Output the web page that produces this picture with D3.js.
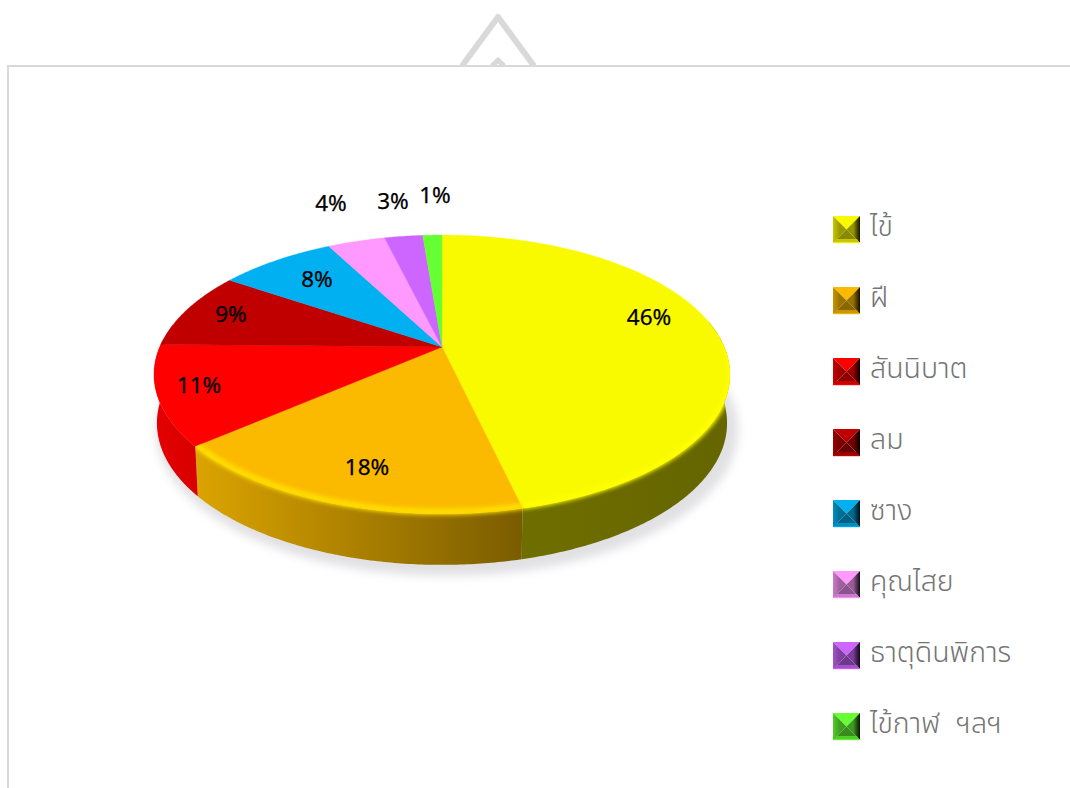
<!DOCTYPE html>
<html><head><meta charset="utf-8">
<script src="https://cdn.jsdelivr.net/npm/d3@7/dist/d3.min.js"></script>
<style>html,body{margin:0;padding:0;background:#fff;overflow:hidden}svg{display:block}</style>
</head><body><svg id="c" width="1070" height="788"></svg>
<script>
const categories = ["ไข้","ฝี","สันนิบาต","ลม","ซาง","คุณไสย","ธาตุดินพิการ","ไข้กาฬ ฯลฯ"];
const shares = [46.3,17.5,11.5,9.0,7.9,3.9,2.6,1.3];
const percentLabels = ["46%","18%","11%","9%","8%","4%","3%","1%"];
const colors = ["#f9f900","#fbba00","#ff0000","#c00000","#00b0f0","#ff99ff","#cc66ff","#66ff33"];
const sideLeft = ["#6e6e00","#dca400","#e20000","#a80000","#0090c8","#d080d0","#a050d0","#50d020"];
const sideRight = ["#666600","#7a5c00","#d80000","#900000","#007aa8","#b070b0","#8040b0","#40b010"];
const rimGlow = ["#ffff00","#ffe000",null,null,null,null,null,null];
const labelPos = [[649,317],[367,467],[199,385],[231,314],[317,279],[331,203],[393,201],[435,195]];

const svg = d3.select("#c"), defs = svg.append("defs");
const F = "'Noto Sans','Noto Sans Thai','Open Sans',sans-serif";
const cx=442, cy=347, A=134, B=282.3, k=0.197;
const topP = a=>{const u=Math.sin(a), v=-Math.cos(a), w=1-k*v; return [cx+B*u/w, cy+A*v/w];};
const botP = a=>{const p=topP(a), v=-Math.cos(a); return [cx+(p[0]-cx)*0.99, p[1]+48+3*v];};
const line = d3.line();
const pie = d3.pie().sort(null).value(d=>d)(shares);
const span=(a0,a1)=>{const n=Math.max(2,Math.ceil((a1-a0)/0.01));return d3.range(n+1).map(i=>a0+(a1-a0)*i/n);};
const PI=Math.PI, frontA=PI/2-0.2, frontB=1.5*PI+0.06;

// frame and the triangle behind it
const tri = svg.append("g").attr("fill","none").attr("stroke","#d9d9d9").attr("stroke-linejoin","round");
tri.append("path").attr("d","M462,66L498,17L534,66").attr("stroke-width",6);
tri.append("path").attr("d","M492,66L498,60L504,66").attr("stroke-width",5);
svg.append("rect").attr("x",8).attr("y",66).attr("width",1070).attr("height",740).attr("fill","#fff").attr("stroke","#d9d9d9").attr("stroke-width",2);

// ground shadow
defs.append("filter").attr("id","blur").attr("x","-20%").attr("y","-20%").attr("width","140%").attr("height","140%")
  .append("feGaussianBlur").attr("stdDeviation",5);
svg.append("ellipse").attr("cx",447).attr("cy",430).attr("rx",291).attr("ry",146).attr("fill","#d4d4d8").attr("opacity",.7).attr("filter","url(#blur)");

// side walls
pie.forEach((d,i)=>{
  const a0=Math.max(d.startAngle,frontA), a1=Math.min(d.endAngle,frontB);
  if(a1<=a0) return;
  const as=span(a0,a1);
  const g=defs.append("linearGradient").attr("id","side"+i).attr("gradientUnits","userSpaceOnUse")
    .attr("x1",topP(a1)[0]).attr("x2",topP(a0)[0]).attr("y1",0).attr("y2",0);
  g.append("stop").attr("offset",0).attr("stop-color",sideLeft[i]);
  g.append("stop").attr("offset",1).attr("stop-color",sideRight[i]);
  svg.append("path").attr("d",line(as.map(a=>topP(a)).concat(as.slice().reverse().map(a=>botP(a))))+"Z").attr("fill",`url(#side${i})`);
});

// soft rim: the face colour bleeds over the top of the wall, kept inside the slice and its wall
defs.append("filter").attr("id","soft").attr("x","-20%").attr("y","-20%").attr("width","140%").attr("height","140%")
  .append("feGaussianBlur").attr("stdDeviation",2.2);
const clip=defs.append("clipPath").attr("id","wallClip");
pie.forEach((d,i)=>{
  if(!rimGlow[i]) return;
  const as=span(Math.max(d.startAngle,frontA),d.endAngle);
  clip.append("path").attr("d",line(as.map(a=>topP(a)).concat(as.slice().reverse().map(a=>botP(a))))+"Z");
  clip.append("path").attr("d",line([[cx,cy]].concat(span(d.startAngle,d.endAngle).map(a=>topP(a))))+"Z");
});

// top faces
pie.forEach((d,i)=>{
  const pts=[[cx,cy]].concat(span(d.startAngle,d.endAngle).map(a=>topP(a)));
  svg.append("path").attr("d",line(pts)+"Z").attr("fill",colors[i]).attr("stroke",colors[i]).attr("stroke-width",.4);
});
const rim=svg.append("g").attr("clip-path","url(#wallClip)");
pie.forEach((d,i)=>{
  if(!rimGlow[i]) return;
  const as=span(Math.max(d.startAngle,PI/2),d.endAngle);
  rim.append("path").attr("d",line(as.map(a=>{const p=topP(a);return [p[0],p[1]-2];}))).attr("fill","none")
    .attr("stroke",rimGlow[i]).attr("stroke-width",6).attr("filter","url(#soft)");
});

// percent labels
percentLabels.forEach((t,i)=>svg.append("text").attr("x",labelPos[i][0]).attr("y",labelPos[i][1]).attr("dy","0.35em")
  .attr("text-anchor","middle").attr("font-family",F).attr("font-size",22.5).attr("fill","#000").attr("stroke","#000").attr("stroke-width",.25).text(t));

// legend
const legendY=d3.scalePoint().domain(d3.range(categories.length)).range([229,726]);
categories.forEach((c,i)=>{
  const x=833, y=legendY(i)-13, s=27, m=13.5;
  const g=svg.append("g").attr("transform",`translate(${x},${y})`);
  const q=d3.rgb(colors[i]);
  const dark=f=>d3.rgb(q.r*f,q.g*f,q.b*f)+"";
  const rg=defs.append("linearGradient").attr("id","lr"+i);
  rg.append("stop").attr("offset",.5).attr("stop-color",dark(.6));
  rg.append("stop").attr("offset",1).attr("stop-color",dark(.08));
  const lg=defs.append("linearGradient").attr("id","ll"+i);
  lg.append("stop").attr("offset",0).attr("stop-color",dark(.8));
  lg.append("stop").attr("offset",.5).attr("stop-color",dark(.62));
  g.append("path").attr("d",`M0,0H${s}L${m},${m}Z`).attr("fill",colors[i]);
  g.append("path").attr("d",`M0,0V${s}L${m},${m}Z`).attr("fill",`url(#ll${i})`);
  g.append("path").attr("d",`M${s},0V${s}L${m},${m}Z`).attr("fill",`url(#lr${i})`);
  g.append("path").attr("d",`M0,${s}H${s}L${m},${m}Z`).attr("fill",dark(.55));
  g.append("path").attr("d",`M1,${s-1}H${s-1}L${s-3},${s-4}H3Z`).attr("fill",dark(.8));
  g.append("rect").attr("x",0).attr("y",s-1).attr("width",s).attr("height",1.2).attr("fill",dark(.95));
  svg.append("text").attr("x",870).attr("y",legendY(i)-3).attr("dy","0.35em")
    .attr("font-family",F).attr("font-size",28.5).attr("font-weight",300).attr("word-spacing",9).attr("fill","#757575").text(c);
});
</script></body></html>
